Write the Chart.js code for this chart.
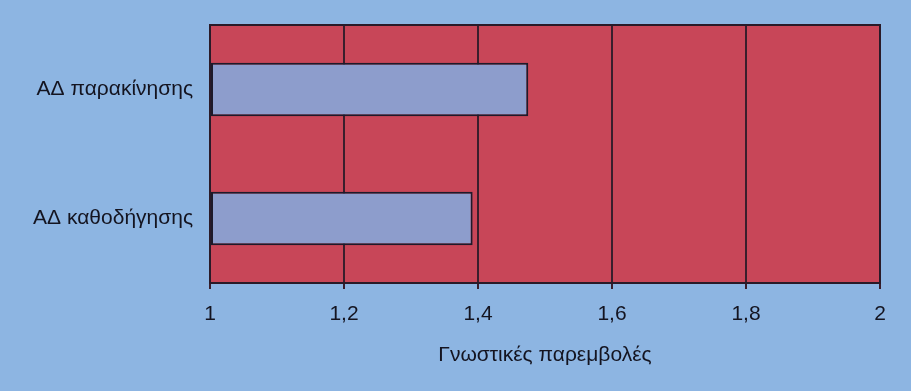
<!DOCTYPE html>
<html>
<head>
<meta charset="utf-8">
<script src="https://cdn.jsdelivr.net/npm/chart.js@4"></script>
<style>
  html, body { margin: 0; padding: 0; background: #ffffff; }
  #wrap { width: 911px; height: 391px; background: #8db5e2; position: relative; }
  canvas { display: block; }
</style>
</head>
<body>
<div id="wrap"><canvas id="chart" width="911" height="391"></canvas></div>
<script>
const categories = ["ΑΔ παρακίνησης", "ΑΔ καθοδήγησης"];
const values = [1.475, 1.392];
const xTicks = [1, 1.2, 1.4, 1.6, 1.8, 2];
const xTitle = "Γνωστικές παρεμβολές";

const plotFill = {
  id: "plotFill",
  beforeDraw(chart) {
    const { ctx, chartArea: a } = chart;
    ctx.save();
    ctx.fillStyle = "#c84658";
    ctx.fillRect(a.left, a.top, a.right - a.left, a.bottom - a.top);
    ctx.restore();
  },
  afterDraw(chart) {
    const { ctx, chartArea: a } = chart;
    ctx.save();
    ctx.strokeStyle = "#2a1a28";
    ctx.lineWidth = 2;
    ctx.strokeRect(a.left, a.top, a.right - a.left, a.bottom - a.top);
    ctx.restore();
  }
};

const font = { family: "Liberation Sans", size: 21 };

new Chart(document.getElementById("chart"), {
  type: "bar",
  data: {
    labels: categories,
    datasets: [{
      data: values,
      base: 1,
      backgroundColor: "#8d9dcc",
      borderColor: "#1e1a2a",
      borderWidth: 2,
      borderSkipped: false,
      barPercentage: 0.52,
      categoryPercentage: 0.8
    }]
  },
  options: {
    indexAxis: "y",
    responsive: false,
    animation: false,
    layout: { padding: { top: 25, right: 31, left: 0, bottom: 0 } },
    plugins: { legend: { display: false }, tooltip: { enabled: false } },
    scales: {
      x: {
        min: 1,
        max: 2,
        afterBuildTicks(scale) {
          scale.ticks = xTicks.map(v => ({ value: v }));
        },
        afterFit(scale) { scale.height = 108; },
        grid: { color: "#3a1e2c", lineWidth: 2, tickLength: 6, tickColor: "#3a1e2c" },
        border: { color: "#2a1a28", width: 2 },
        ticks: {
          color: "#141420",
          padding: 13,
          font: font,
          callback: v => String(v).replace(".", ",")
        },
        title: {
          display: true,
          text: xTitle,
          color: "#141420",
          font: font,
          padding: { top: 8, bottom: 23 }
        }
      },
      y: {
        afterFit(scale) { scale.width = 210; },
        grid: { display: false },
        border: { color: "#2a1a28", width: 2 },
        ticks: {
          color: "#141420",
          padding: 9,
          font: font
        }
      }
    }
  },
  plugins: [plotFill]
});
</script>
</body>
</html>
